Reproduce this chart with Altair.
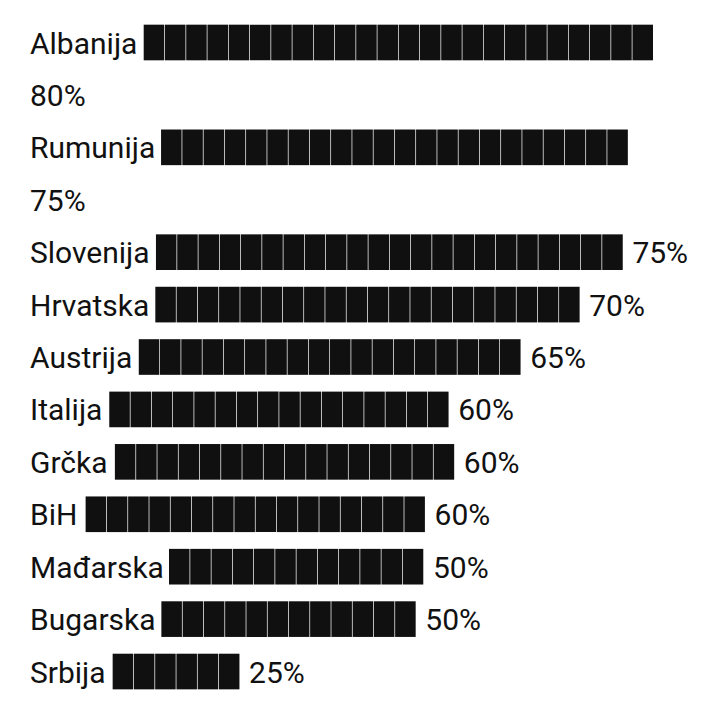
import altair as alt
import pandas as pd

# ---- data ----
countries = ["Albanija", "Rumunija", "Slovenija", "Hrvatska", "Austrija", "Italija",
             "Grčka", "BiH", "Mađarska", "Bugarska", "Srbija"]
percent = [80, 75, 75, 70, 65, 60, 60, 60, 50, 50, 25]
blocks = [24, 22, 22, 20, 18, 16, 16, 16, 12, 12, 6]   # number of ▇ squares in each bar

# ---- layout helpers (Roboto advance widths, units per em = 2048) ----
FS = 30
ADV = {" ": 507, "%": 1466, "A": 1336, "B": 1275, "G": 1395, "H": 1460, "I": 557,
       "M": 1788, "R": 1261, "S": 1217, "a": 1088, "b": 1122, "c": 1045, "č": 1045,
       "d": 1127, "đ": 1140, "e": 1058, "g": 1119, "h": 1101, "i": 486, "j": 477,
       "k": 1014, "l": 486, "m": 1752, "n": 1103, "o": 1139, "r": 677, "s": 1030,
       "t": 654, "u": 1102, "v": 969}
for d in "0123456789":
    ADV[d] = 1150


def text_w(s):
    return sum(ADV.get(ch, 1100) for ch in s) / 2048 * FS


LEFT = 22          # left text margin inside the chart
BLOCK = 21.25      # width of one square
SPACE = ADV[" "] / 2048 * FS
MAXX = 684         # line width before a label wraps

text_rows, block_rows = [], []
line = 0
for c, p, n in zip(countries, percent, blocks):
    text_rows.append(dict(line=line, x=LEFT, label=c))
    start = LEFT + text_w(c) + SPACE + 1
    for i in range(n):
        block_rows.append(dict(line=line, x=start + i * BLOCK, x2=start + (i + 1) * BLOCK,
                               yt=line - 0.35, yb=line + 0.33))
    lab = f"{p}%"
    lx = start + n * BLOCK + SPACE + 1.5
    if lx + text_w(lab) > MAXX:
        line += 1
        lx = LEFT
    text_rows.append(dict(line=line, x=lx, label=lab))
    line += 1

tdf = pd.DataFrame(text_rows)
bdf = pd.DataFrame(block_rows)

W, H = 704, 697
xs = alt.Scale(domain=[0, W])
ys = alt.Scale(domain=[-0.668, -0.668 + H / 52.42], reverse=True)

bars = alt.Chart(bdf).mark_rect(color="#101010", x2Offset=-0.7).encode(
    x=alt.X("x:Q", scale=xs, axis=None),
    x2="x2:Q",
    y=alt.Y("yt:Q", scale=ys, axis=None),
    y2="yb:Q",
)

texts = alt.Chart(tdf).mark_text(
    align="left", baseline="alphabetic", dy=10.5, font="Roboto", fontSize=FS, color="#111111"
).encode(
    x=alt.X("x:Q", scale=xs, axis=None),
    y=alt.Y("line:Q", scale=ys, axis=None),
    text="label:N",
)

chart = alt.layer(bars, texts).properties(
    width=W, height=H, padding=0, background="white"
).configure_view(stroke=None)

chart.save("out.html", embed_options={"renderer": "svg", "actions": False})
